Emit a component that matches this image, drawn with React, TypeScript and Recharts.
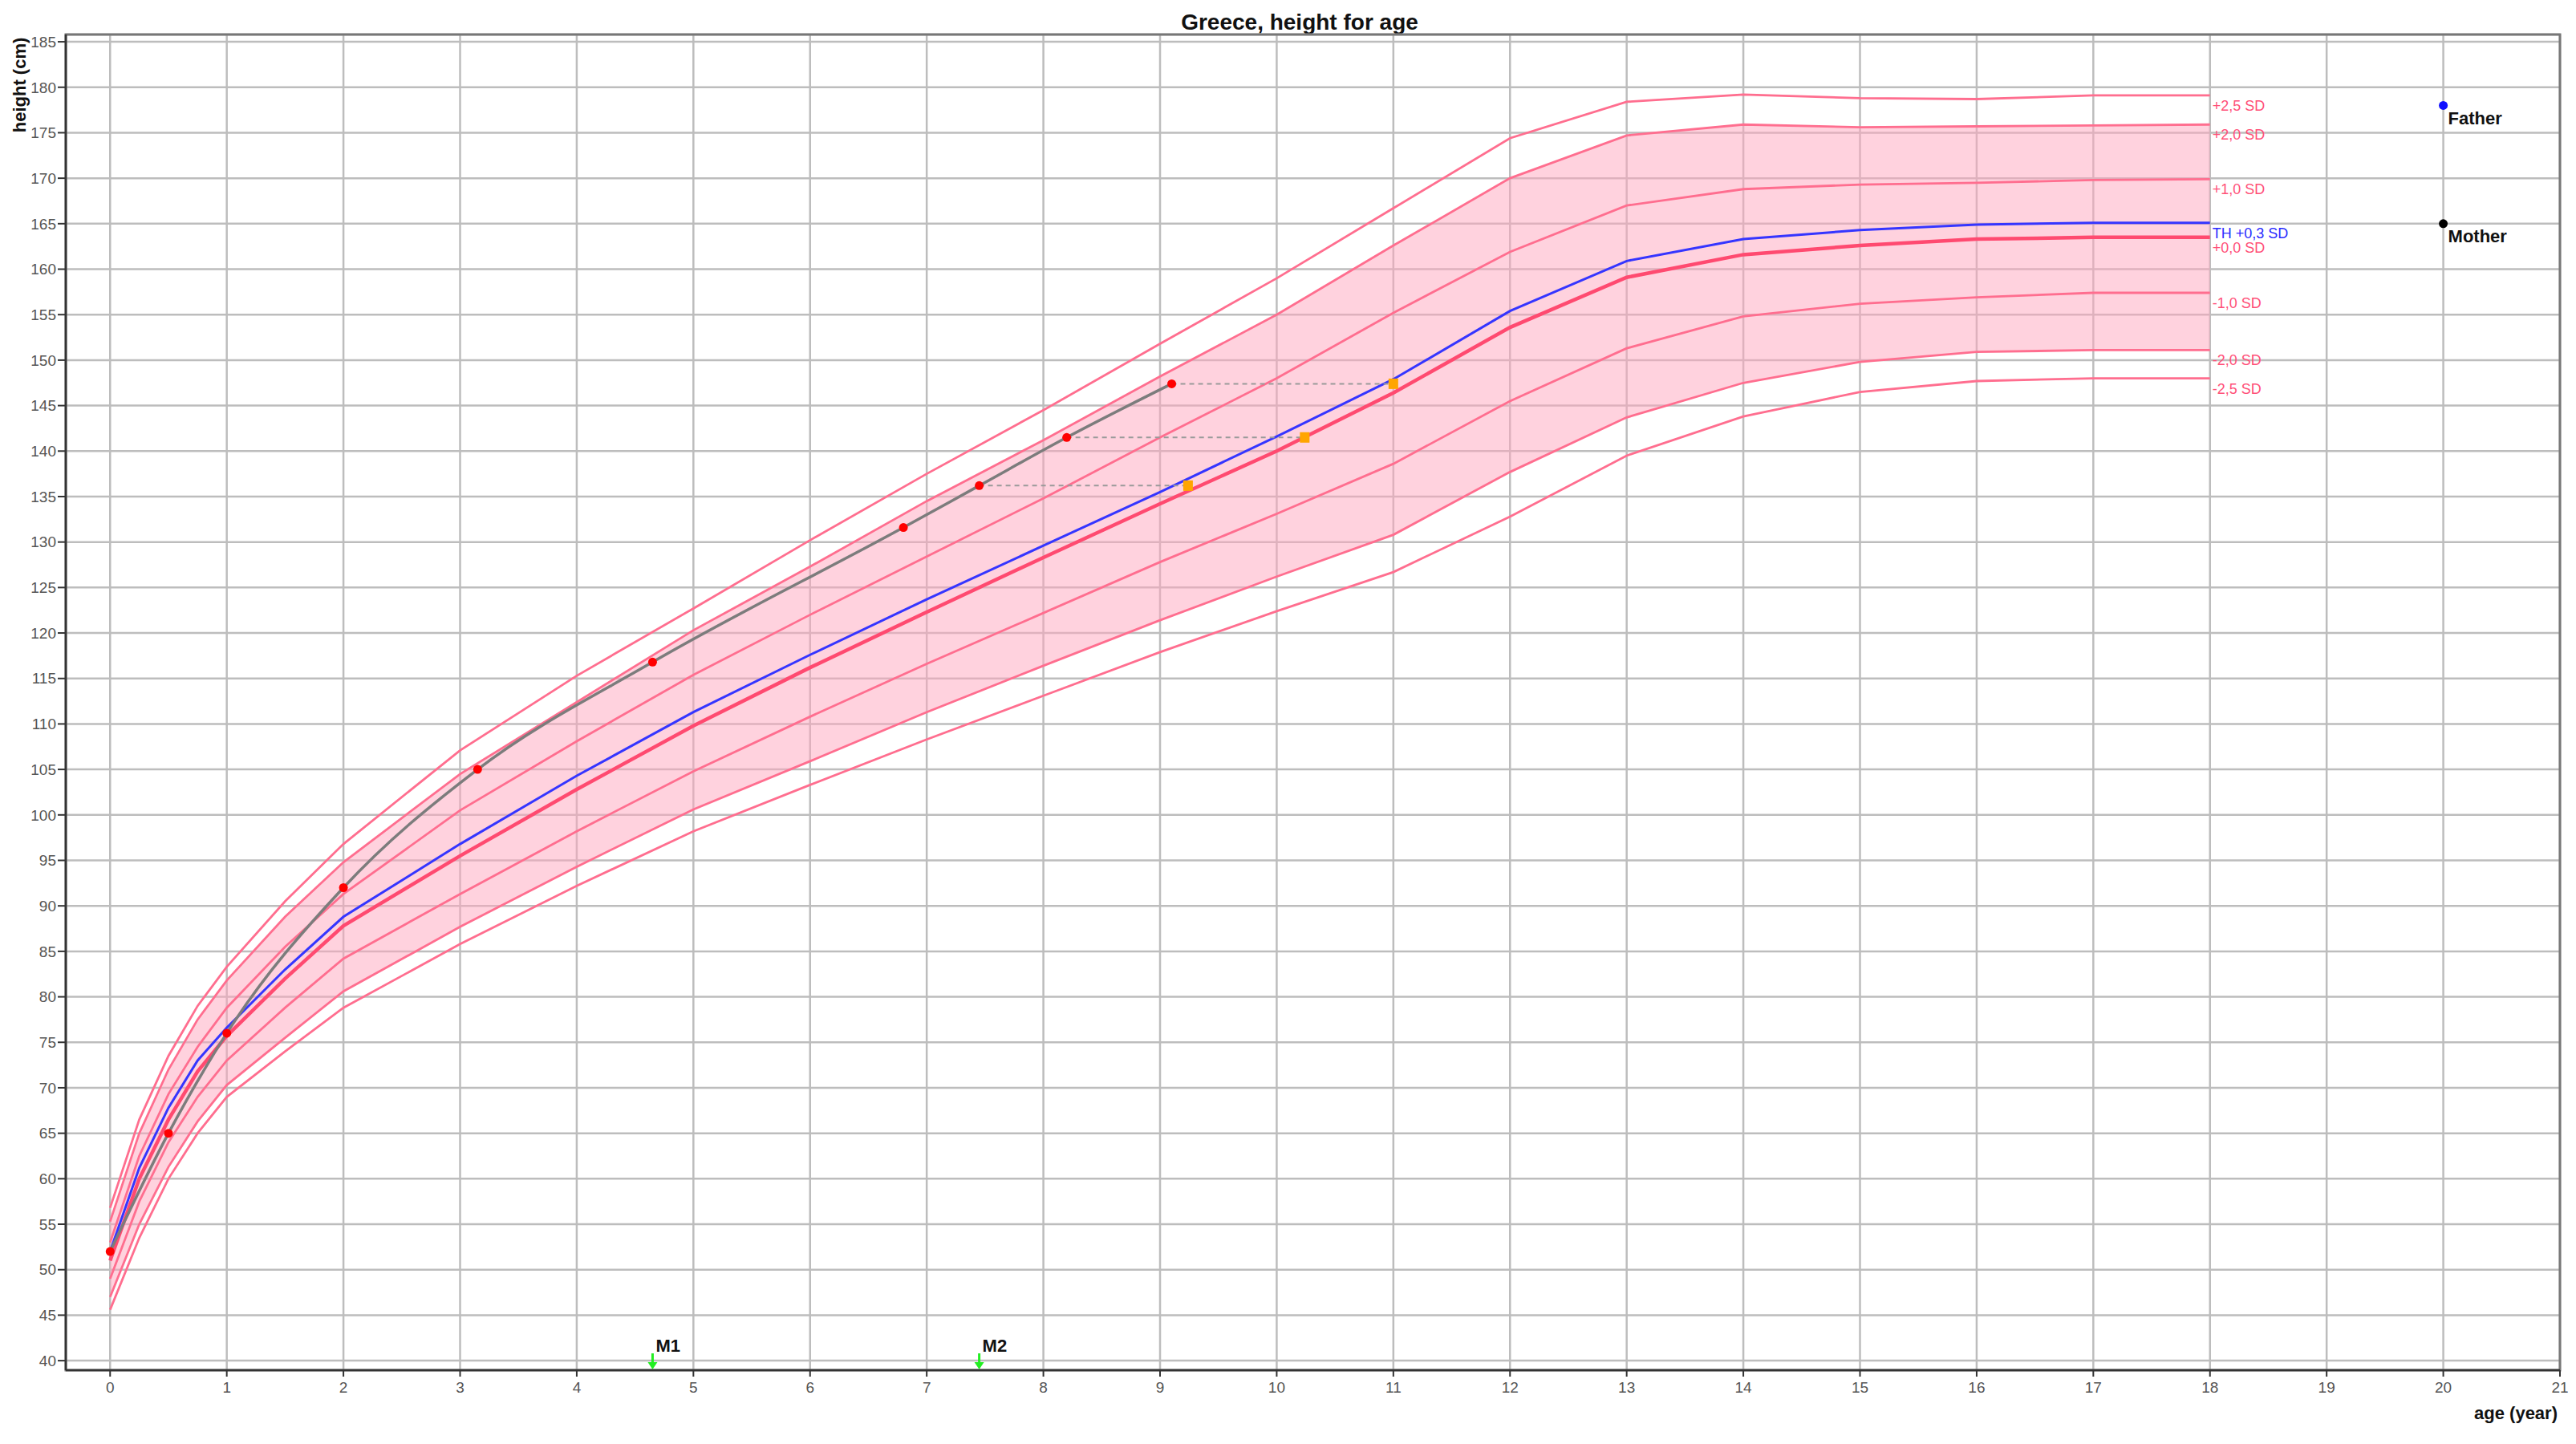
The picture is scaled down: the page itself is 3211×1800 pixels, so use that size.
import React from 'react';
import { ComposedChart, Line, Area, Scatter, XAxis, YAxis, CartesianGrid, ReferenceArea } from 'recharts';

const FONT = '"Liberation Sans", Arial, sans-serif';

// reference curves (girls, Greece), in cm
const ages = [0, 0.25, 0.5, 0.75, 1, 1.5, 2, 3, 4, 5, 6, 7, 8, 9, 10, 11, 12, 13, 14, 15, 16, 17, 18];
const sdPlus25 = [56.8, 66.5, 73.5, 79, 83.3, 90.5, 96.8, 107.1, 115.3, 122.7, 130.2, 137.5, 144.5, 151.8, 159, 166.7, 174.4, 178.4, 179.2, 178.8, 178.7, 179.1, 179.1];
const sdPlus2 = [55.3, 65, 72, 77.5, 81.8, 88.8, 94.8, 104.5, 112.4, 120.3, 127.3, 134.5, 141.2, 148.2, 155, 162.6, 170, 174.7, 175.9, 175.6, 175.7, 175.8, 175.9];
const sdPlus1 = [53, 62.5, 69.3, 74.5, 78.8, 85.5, 91.3, 100.5, 108.1, 115.4, 122, 128.4, 134.8, 141.5, 148, 155.2, 161.9, 167, 168.8, 169.3, 169.5, 169.8, 169.9];
const sdZero = [51, 60, 66.5, 71.8, 75.7, 82, 87.8, 95.5, 102.8, 109.8, 116.2, 122.3, 128.3, 134.2, 140, 146.4, 153.6, 159.1, 161.6, 162.6, 163.3, 163.5, 163.5];
const targetHeight = [52, 61.2, 67.8, 73, 76.6, 83, 88.8, 96.8, 104.3, 111.3, 117.6, 123.7, 129.6, 135.5, 141.6, 147.9, 155.4, 160.9, 163.3, 164.3, 164.9, 165.1, 165.1];
const sdMinus1 = [49, 57.5, 64, 69, 73, 78.8, 84.2, 91.3, 98.2, 104.8, 110.8, 116.6, 122.2, 127.8, 133.1, 138.6, 145.5, 151.3, 154.8, 156.2, 156.9, 157.4, 157.4];
const sdMinus2 = [47, 55, 61.3, 66.3, 70.3, 75.5, 80.6, 87.7, 94.3, 100.6, 105.9, 111.3, 116.4, 121.4, 126.2, 130.8, 137.7, 143.7, 147.5, 149.8, 150.9, 151.1, 151.1];
const sdMinus25 = [45.6, 53.5, 60, 65, 69, 74, 78.8, 85.8, 92.2, 98.2, 103.3, 108.3, 113.1, 117.9, 122.4, 126.7, 132.8, 139.5, 143.8, 146.5, 147.7, 148, 148];

// patient measurements
const patientAges = [0, 0.5, 1, 2, 3.15, 4.65, 6.8, 7.45, 8.2, 9.1];
const patientHeights = [52, 65, 76, 92, 105, 116.8, 131.6, 136.2, 141.5, 147.4];
// height age (orange squares) for the last three measurements
const heightAgeFrom = [7, 8, 9];
const heightAges = [9.24, 10.24, 11.0];

const markAges = [4.65, 7.45];
const markNames = ['M1', 'M2'];

const parentNames = ['Father', 'Mother'];
const parentHeights = [178, 165];
const parentColors = ['#1010ff', '#000000'];

const xTicks = [0, 1, 2, 3, 4, 5, 6, 7, 8, 9, 10, 11, 12, 13, 14, 15, 16, 17, 18, 19, 20, 21];
const yTicks = [40, 45, 50, 55, 60, 65, 70, 75, 80, 85, 90, 95, 100, 105, 110, 115, 120, 125, 130, 135, 140, 145, 150, 155, 160, 165, 170, 175, 180, 185];
const xMinorTicks = Array.from({ length: 107 }, (_, i) => Math.round((-0.2 + i * 0.2) * 10) / 10);
const yMinorTicks = Array.from({ length: 147 }, (_, i) => 39 + i);

const XMIN = -0.38, XMAX = 21;
const YMIN = 38.95, YMAX = 185.8;

const refData = ages.map((age, i) => ({
  age,
  p25: sdPlus25[i], p2: sdPlus2[i], p1: sdPlus1[i], p0: sdZero[i], th: targetHeight[i],
  m1: sdMinus1[i], m2: sdMinus2[i], m25: sdMinus25[i],
}));
const patient = patientAges.map((age, i) => ({ age, h: patientHeights[i] }));
const heightAgePts = heightAges.map((age, i) => ({ age, h: patientHeights[heightAgeFrom[i]] }));
const connectors = heightAgeFrom.map((k, i) => [patient[k], heightAgePts[i]]);
const marks = markAges.map((age, i) => ({ age, h: YMIN, name: markNames[i] }));
const parents = parentNames.map((name, i) => ({ age: 20, h: parentHeights[i], name, color: parentColors[i] }));

const PINK = '#ff6e8f';
const PINK_TXT = '#ff5078';

const endLabel = (text: string, color: string) => (props: any) => {
  if (props.index !== ages.length - 1) return null;
  return (
    <text x={props.x + 3} y={props.y + 13} fill={color} fontSize={18} fontFamily={FONT} dominantBaseline="central">
      {text}
    </text>
  );
};

const parentShape = (props: any) => (
  <g>
    <circle cx={props.cx} cy={props.cy} r={5.5} fill={props.payload.color} />
    <text x={props.cx + 6} y={props.cy + 16} fontSize={22} fontWeight="bold" fontFamily={FONT} fill="#111" dominantBaseline="central">
      {props.payload.name}
    </text>
  </g>
);

const markShape = (props: any) => (
  <g>
    <line x1={props.cx} x2={props.cx} y1={props.cy - 21} y2={props.cy - 8} stroke="#22ee22" strokeWidth={3} />
    <polygon points={`${props.cx - 6},${props.cy - 10} ${props.cx + 6},${props.cy - 10} ${props.cx},${props.cy - 1}`} fill="#22ee22" />
    <text x={props.cx + 4} y={props.cy - 31} fontSize={22} fontWeight="bold" fontFamily={FONT} fill="#111" dominantBaseline="central">
      {props.payload.name}
    </text>
  </g>
);

const squareShape = (props: any) => (
  <rect x={props.cx - 6} y={props.cy - 6.5} width={12} height={13} fill="#ffa500" />
);

export default function App() {
  const sdLines = [
    { key: 'p25', text: '+2,5 SD' },
    { key: 'p2', text: '+2,0 SD' },
    { key: 'p1', text: '+1,0 SD' },
    { key: 'm1', text: '-1,0 SD' },
    { key: 'm2', text: '-2,0 SD' },
    { key: 'm25', text: '-2,5 SD' },
  ];
  return (
    <div style={{ position: 'absolute', left: 0, top: 0, width: 3211, height: 1800, background: '#fff', fontFamily: FONT }}>
      <div style={{ position: 'absolute', left: 1420, top: 12, width: 400, textAlign: 'center', fontSize: 28, lineHeight: '32px', fontWeight: 'bold', color: '#111' }}>
        Greece, height for age
      </div>
      <div style={{ position: 'absolute', left: 25, top: 106, transform: 'translate(-50%, -50%) rotate(-90deg)', whiteSpace: 'nowrap', fontSize: 22, fontWeight: 'bold', color: '#111' }}>
        height (cm)
      </div>
      <div style={{ position: 'absolute', left: 2888, top: 1749, width: 300, textAlign: 'right', fontSize: 22, lineHeight: '26px', fontWeight: 'bold', color: '#111' }}>
        age (year)
      </div>
      <ComposedChart width={3211} height={1800} margin={{ top: 43, right: 20, bottom: 90, left: 80 }} style={{ position: 'absolute', left: 0, top: 0 }}>
        <CartesianGrid stroke="#bdbdbd" strokeWidth={2.5} />
        <XAxis dataKey="age" type="number" domain={[XMIN, XMAX]} allowDataOverflow ticks={xTicks} interval={0} height={1}
          axisLine={{ stroke: '#333', strokeWidth: 2.5 }} tickLine={{ stroke: '#333', strokeWidth: 2 }} tickSize={8} tickMargin={7}
          tick={{ fill: '#555', fontSize: 19, fontFamily: FONT }} />
        <XAxis xAxisId="minor" type="number" domain={[XMIN, XMAX]} allowDataOverflow ticks={xMinorTicks} interval={0} height={1}
          axisLine={false} tick={false} tickLine={{ stroke: '#333', strokeWidth: 2 }} tickSize={4} />
        <YAxis type="number" domain={[YMIN, YMAX]} allowDataOverflow ticks={yTicks} interval={0} width={1}
          axisLine={{ stroke: '#333', strokeWidth: 2.5 }} tickLine={{ stroke: '#333', strokeWidth: 2 }} tickSize={10} tickMargin={2}
          tick={{ fill: '#555', fontSize: 19, fontFamily: FONT }} />
        <YAxis yAxisId="minor" type="number" domain={[YMIN, YMAX]} allowDataOverflow ticks={yMinorTicks} interval={0} width={1}
          axisLine={false} tick={false} tickLine={{ stroke: '#333', strokeWidth: 2 }} tickSize={4} />
        <ReferenceArea x1={XMIN} x2={XMAX} y1={YMIN} y2={YMAX} fill="none" stroke="#777" strokeWidth={3} />

        <Area data={refData} dataKey={(d: any) => [d.m2, d.p2]} type="linear" stroke="none" fill="#ffa5bd" fillOpacity={0.5} isAnimationActive={false} />
        {sdLines.map((s) => (
          <Line key={s.key} data={refData} dataKey={s.key} type="linear" stroke={PINK} strokeWidth={2.8} dot={false}
            label={endLabel(s.text, PINK_TXT)} isAnimationActive={false} />
        ))}
        <Line data={refData} dataKey="p0" type="linear" stroke="#ff4a70" strokeWidth={4.5} dot={false}
          label={endLabel('+0,0 SD', PINK_TXT)} isAnimationActive={false} />
        <Line data={refData} dataKey="th" type="linear" stroke="#3535ff" strokeWidth={3} dot={false}
          label={endLabel('TH +0,3 SD', '#2a2aff')} isAnimationActive={false} />

        {connectors.map((c, i) => (
          <Line key={'c' + i} data={c} dataKey="h" type="linear" stroke="#9a9a9a" strokeWidth={2} strokeDasharray="6 5" dot={false} isAnimationActive={false} />
        ))}
        <Line data={patient} dataKey="h" type="monotone" stroke="#7c7c7c" strokeWidth={3.5}
          dot={{ r: 5.5, fill: '#ff0000', stroke: 'none' }} isAnimationActive={false} />
        <Scatter data={heightAgePts} dataKey="h" shape={squareShape} isAnimationActive={false} />
        <Scatter data={parents} dataKey="h" shape={parentShape} isAnimationActive={false} />
        <Scatter data={marks} dataKey="h" shape={markShape} isAnimationActive={false} />
      </ComposedChart>
    </div>
  );
}
